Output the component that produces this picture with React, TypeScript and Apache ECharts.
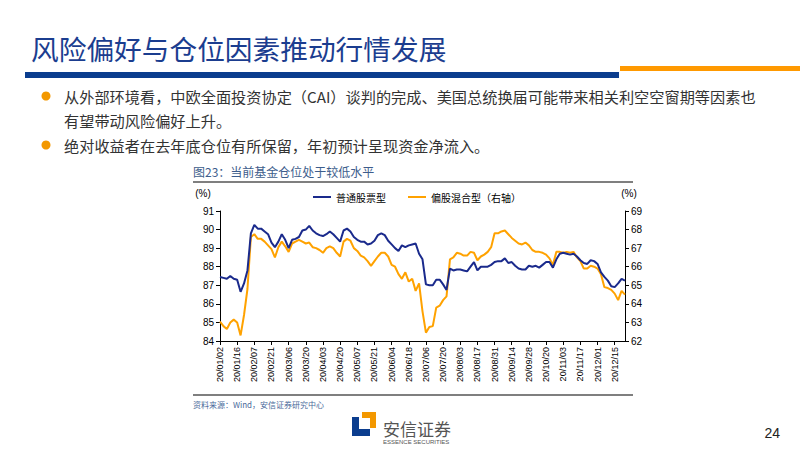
import React, { useEffect, useRef } from "react";
import * as echarts from "echarts";

const tickLabels = [
  "20/01/02", "20/01/16", "20/02/07", "20/02/21", "20/03/06", "20/03/20",
  "20/04/03", "20/04/20", "20/05/07", "20/05/21", "20/06/04", "20/06/18",
  "20/07/06", "20/07/20", "20/08/03", "20/08/17", "20/08/31", "20/09/14",
  "20/09/28", "20/10/20", "20/11/03", "20/11/17", "20/12/01", "20/12/15",
];

// 普通股票型 (left axis, %), sampled every 2 trading days
const stockFund = [
  87.45, 87.4, 87.35, 87.5, 87.35, 87.3, 86.65, 87.1, 87.8, 89.8,
  90.25, 90.05, 90.05, 89.9, 89.75, 89.3, 89.05, 89.35, 89.75, 89.45,
  89.0, 89.45, 89.5, 89.6, 89.95, 90.0, 90.2, 89.95, 89.8, 89.7,
  89.65, 89.75, 89.9, 89.75, 89.55, 89.35, 89.95, 90.05, 89.9, 89.6,
  89.45, 89.35, 89.35, 89.2, 89.25, 89.4, 89.7, 89.8, 89.7, 89.4,
  89.2, 89.0, 88.85, 89.15, 89.05, 89.15, 89.2, 89.25, 88.7, 88.4,
  87.05, 87.0, 87.0, 87.3, 87.3, 87.05, 86.75, 87.9, 87.8, 87.85,
  87.85, 87.8, 87.75, 88.0, 88.25, 87.8, 88.0, 88.0, 88.0, 88.1,
  88.25, 88.3, 88.3, 88.45, 88.2, 88.25, 88.05, 87.9, 87.85, 87.85,
  88.05, 88.0, 88.05, 87.95, 88.1, 88.25, 88.25, 87.95, 88.4, 88.7,
  88.75, 88.7, 88.65, 88.7, 88.55, 88.35, 88.2, 88.15, 88.35, 88.3,
  88.15, 87.7, 87.45, 87.25, 86.95, 86.9, 87.1, 87.35, 87.25,
];

// 偏股混合型 (right axis, %)
const hybridFund = [
  63.05, 62.8, 62.65, 63.0, 63.15, 63.0, 62.3, 63.4, 64.8, 67.6,
  67.75, 67.5, 67.5, 67.35, 67.15, 66.95, 66.5, 67.05, 67.35, 67.1,
  66.8, 67.25, 67.35, 67.45, 67.35, 67.25, 67.3, 67.05, 67.0, 66.9,
  66.75, 67.0, 67.1, 67.0, 66.75, 66.55, 67.35, 67.5, 67.4, 67.0,
  66.85, 66.6, 66.5, 66.3, 66.05, 66.3, 66.55, 66.75, 66.75, 66.55,
  66.1, 66.0, 65.6, 65.35, 65.7, 65.2, 65.35, 64.7, 65.1, 63.6,
  62.45, 62.75, 62.8, 63.8, 63.9, 64.2, 64.4, 66.4, 66.5, 66.75,
  66.7, 66.6, 66.6, 66.8, 66.75, 66.35, 66.55, 66.65, 66.8, 67.05,
  67.8, 67.8, 67.9, 67.95, 67.75, 67.55, 67.4, 67.25, 67.2, 67.3,
  67.15, 66.9, 66.8, 66.8, 66.75, 66.65, 66.45, 66.1, 66.8, 66.8,
  66.75, 66.8, 66.75, 66.8, 66.5, 66.3, 65.9, 65.9, 66.05, 66.0,
  65.9, 65.6, 64.9, 64.85, 64.75, 64.55, 64.2, 64.7, 64.5,
];

const seriesNames = ["普通股票型", "偏股混合型（右轴）"];

const pageTitle = "风险偏好与仓位因素推动行情发展";
const bulletLines = [
  "从外部环境看，中欧全面投资协定（CAI）谈判的完成、美国总统换届可能带来相关利空空窗期等因素也",
  "有望带动风险偏好上升。",
  "绝对收益者在去年底仓位有所保留，年初预计呈现资金净流入。",
];
const chartTitle = "图23：当前基金仓位处于较低水平";
const sourceText = "资料来源：Wind，安信证券研究中心";

const POINTS_PER_TICK = 5;
const categories = stockFund.map((_, i) => {
  const t = Math.floor(i / POINTS_PER_TICK);
  return i % POINTS_PER_TICK === 0 ? tickLabels[t] : `${tickLabels[t]}#${i}`;
});

const CJK = "'Noto Sans CJK SC', 'Noto Sans', sans-serif";
const LAT = "'Liberation Sans', Arial, sans-serif";

export default function App() {
  const ref = useRef<HTMLDivElement>(null);
  useEffect(() => {
    if (!ref.current) return;
    const chart = echarts.init(ref.current, undefined, { renderer: "svg" });
    const textColor = "#333333";
    chart.setOption({
      animation: false,
      backgroundColor: "#ffffff",
      grid: { left: 220, right: 175, top: 211, bottom: 109 },
      legend: {
        data: seriesNames,
        left: 308,
        top: 187,
        icon: "rect",
        itemWidth: 18,
        itemHeight: 2,
        itemGap: 22,
        textStyle: { fontSize: 10, color: "#000", fontFamily: CJK },
      },
      xAxis: {
        type: "category",
        data: categories,
        boundaryGap: false,
        axisLine: { lineStyle: { color: "#000", width: 1 } },
        axisTick: { interval: POINTS_PER_TICK - 1, length: 4, lineStyle: { color: "#000" } },
        axisLabel: {
          interval: POINTS_PER_TICK - 1,
          rotate: 90,
          fontSize: 9,
          color: "#000",
          margin: 6,
          fontFamily: LAT,
        },
        splitLine: { show: false },
      },
      yAxis: [
        {
          type: "value",
          position: "left",
          min: 84,
          max: 91,
          interval: 1,
          axisLine: { show: true, lineStyle: { color: "#000" } },
          axisTick: { show: true, length: 4, lineStyle: { color: "#000" } },
          axisLabel: { fontSize: 10, color: "#000", margin: 6, fontFamily: LAT },
          splitLine: { show: false },
        },
        {
          type: "value",
          position: "right",
          min: 62,
          max: 69,
          interval: 1,
          axisLine: { show: true, lineStyle: { color: "#000" } },
          axisTick: { show: true, length: 4, lineStyle: { color: "#000" } },
          axisLabel: { fontSize: 10, color: "#000", margin: 6, fontFamily: LAT },
          splitLine: { show: false },
        },
      ],
      series: [
        {
          name: seriesNames[0],
          type: "line",
          yAxisIndex: 0,
          data: stockFund,
          showSymbol: false,
          color: "#1a2a8c",
          lineStyle: { width: 2, color: "#1a2a8c" },
          z: 3,
        },
        {
          name: seriesNames[1],
          type: "line",
          yAxisIndex: 1,
          data: hybridFund,
          showSymbol: false,
          color: "#ffa200",
          lineStyle: { width: 2, color: "#ffa200" },
          z: 2,
        },
      ],
      graphic: [
        {
          type: "text",
          x: 31,
          y: 48,
          style: { text: pageTitle, fontSize: 27.7, fill: "#1b3d8f", fontFamily: CJK, verticalAlign: "middle" },
        },
        { type: "rect", shape: { x: 25, y: 72, width: 594, height: 6 }, style: { fill: "#0b3d8e" } },
        { type: "rect", shape: { x: 620, y: 66, width: 180, height: 5 }, style: { fill: "#ff9900" } },
        { type: "circle", shape: { cx: 46, cy: 96, r: 4.5 }, style: { fill: "#f39800" } },
        { type: "circle", shape: { cx: 46, cy: 145, r: 4.5 }, style: { fill: "#f39800" } },
        {
          type: "text", x: 64, y: 96,
          style: { text: bulletLines[0], fontSize: 15.2, fill: textColor, fontFamily: CJK, verticalAlign: "middle" },
        },
        {
          type: "text", x: 64, y: 120,
          style: { text: bulletLines[1], fontSize: 15.2, fill: textColor, fontFamily: CJK, verticalAlign: "middle" },
        },
        {
          type: "text", x: 64, y: 145,
          style: { text: bulletLines[2], fontSize: 15.2, fill: textColor, fontFamily: CJK, verticalAlign: "middle" },
        },
        {
          type: "text", x: 193, y: 171,
          style: { text: chartTitle, fontSize: 12, fill: "#3d5d8c", fontFamily: CJK, verticalAlign: "middle" },
        },
        { type: "line", shape: { x1: 193, y1: 182, x2: 633, y2: 182 }, style: { stroke: "#000", lineWidth: 1.2 } },
        {
          type: "text", x: 203, y: 193,
          style: { text: "(%)", fontSize: 10, fill: "#000", fontFamily: LAT, align: "center", verticalAlign: "middle" },
        },
        {
          type: "text", x: 629, y: 193,
          style: { text: "(%)", fontSize: 10, fill: "#000", fontFamily: LAT, align: "center", verticalAlign: "middle" },
        },
        { type: "line", shape: { x1: 193, y1: 395, x2: 633, y2: 395 }, style: { stroke: "#000", lineWidth: 1.2 } },
        {
          type: "text", x: 193, y: 404,
          style: { text: sourceText, fontSize: 8, fill: "#4a6a9a", fontFamily: CJK, verticalAlign: "middle" },
        },
        {
          type: "polygon",
          shape: { points: [[362, 412], [376, 412], [376, 428], [370, 428], [370, 418], [362, 418]] },
          style: { fill: "#f39800" },
        },
        {
          type: "polygon",
          shape: { points: [[352, 417], [359, 417], [359, 429], [370, 429], [370, 436], [352, 436]] },
          style: { fill: "#0b3d8e" },
        },
        {
          type: "text", x: 383, y: 428,
          style: { text: "安信证券", fontSize: 17, fill: "#555555", fontFamily: CJK, verticalAlign: "middle" },
        },
        {
          type: "text", x: 383, y: 442,
          style: { text: "ESSENCE SECURITIES", fontSize: 6, fill: "#555555", fontFamily: LAT, verticalAlign: "middle" },
        },
        {
          type: "text", x: 780, y: 433,
          style: { text: "24", fontSize: 14, fill: "#222", fontFamily: LAT, align: "right", verticalAlign: "middle" },
        },
      ],
    });
    return () => chart.dispose();
  }, []);
  return (
    <div
      ref={ref}
      style={{ position: "fixed", left: 0, top: 0, width: 800, height: 450, background: "#fff" }}
    />
  );
}
